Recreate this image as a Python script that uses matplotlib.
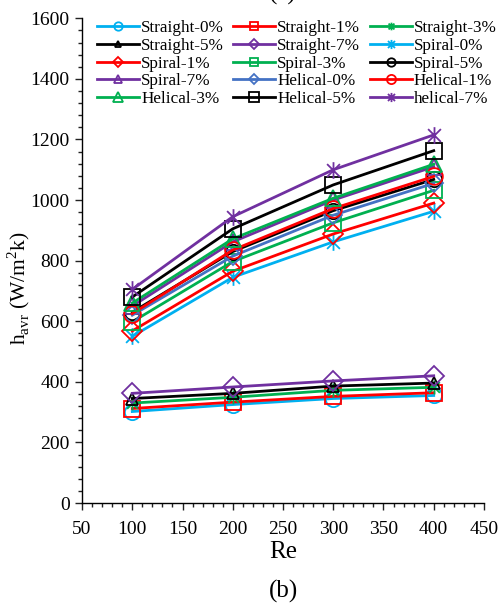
import matplotlib
matplotlib.use("Agg")
import matplotlib.pyplot as plt
from matplotlib.path import Path
from matplotlib.ticker import MultipleLocator

plt.rcParams['font.family'] = ['Liberation Serif', 'DejaVu Serif']
plt.rcParams['mathtext.fontset'] = 'custom'
plt.rcParams['mathtext.rm'] = 'Liberation Serif'

re_vals = [100, 200, 300, 400]

series_names = ["Straight-0%", "Straight-1%", "Straight-3%", "Straight-5%", "Straight-7%",
                "Spiral-0%", "Spiral-1%", "Spiral-3%", "Spiral-5%", "Spiral-7%",
                "Helical-0%", "Helical-1%", "Helical-3%", "Helical-5%", "helical-7%"]

straight_0 = [302, 325, 345, 355]
straight_1 = [312, 333, 352, 364]
straight_3 = [330, 349, 372, 382]
straight_5 = [345, 362, 386, 396]
straight_7 = [362, 383, 403, 420]
spiral_0 = [550, 745, 862, 963]
spiral_1 = [568, 765, 888, 990]
spiral_3 = [598, 797, 925, 1032]
spiral_5 = [630, 830, 965, 1068]
spiral_7 = [650, 862, 1000, 1110]
helical_0 = [620, 815, 950, 1055]
helical_1 = [625, 835, 972, 1078]
helical_3 = [660, 872, 1006, 1118]
helical_5 = [680, 905, 1050, 1163]
helical_7 = [705, 945, 1100, 1215]

all_values = [straight_0, straight_1, straight_3, straight_5, straight_7,
              spiral_0, spiral_1, spiral_3, spiral_5, spiral_7,
              helical_0, helical_1, helical_3, helical_5, helical_7]

cyan = '#00B0F0'
red = '#FF0000'
green = '#00B050'
black = '#000000'
purple = '#7030A0'
blue = '#4472C4'

star = Path([(-1, -1), (1, 1), (-1, 1), (1, -1), (0, -1.3), (0, 1.3)],
            [Path.MOVETO, Path.LINETO, Path.MOVETO, Path.LINETO, Path.MOVETO, Path.LINETO])

styles = [
    (cyan, 'o', 11), (red, 's', 11), (green, star, 10), (black, '^', 9), (purple, 'D', 10),
    (cyan, star, 12), (red, 'D', 10), (green, 's', 11), (black, 'o', 11), (purple, '^', 11),
    (blue, 'D', 9), (red, 'o', 12), (green, '^', 12), (black, 's', 12), (purple, star, 12),
]

fig = plt.figure(figsize=(5.01, 6.09), dpi=100)
ax = fig.add_axes([0.1637, 0.174, 0.8023, 0.796])

handles = []
for name, vals, (c, m, ms) in zip(series_names, all_values, styles):
    h, = ax.plot(re_vals, vals, color=c, lw=2, marker=m, ms=ms, mfc='none', mec=c, mew=1.3, label=name)
    handles.append(h)

ax.set_xlim(50, 450)
ax.set_ylim(0, 1600)
ax.xaxis.set_major_locator(MultipleLocator(50))
ax.xaxis.set_minor_locator(MultipleLocator(10))
ax.yaxis.set_major_locator(MultipleLocator(200))
ax.yaxis.set_minor_locator(MultipleLocator(40))
ax.tick_params(which='both', direction='out', labelsize=14, width=1, color='#222222')
ax.tick_params(which='major', length=5)
ax.tick_params(which='minor', length=3)
ax.tick_params(axis='x', which='major', pad=8)
ax.tick_params(axis='y', which='major', pad=4)
for s in ['top', 'right']:
    ax.spines[s].set_visible(False)
for s in ['left', 'bottom']:
    ax.spines[s].set_linewidth(1)

ax.set_xlabel('Re', fontsize=18, labelpad=2)
ax.set_ylabel(r'h$_{\mathregular{avr}}$ (W/m$^{\mathregular{2}}$k)', fontsize=15.5, labelpad=2)
ax.yaxis.set_label_coords(-0.125, 0.443)

fig.text(0.565, 0.0296, '(b)', ha='center', va='center', fontsize=18)
fig.text(0.565, 1.0, '(a)', ha='center', va='baseline', fontsize=18)

ncol = 3
order = [i for c in range(ncol) for i in range(c, len(handles), ncol)]
fig.legend([handles[i] for i in order], [series_names[i] for i in order],
           loc='upper left', bbox_to_anchor=(0.194, 0.967), ncol=ncol, frameon=False,
           fontsize=12.3, handlelength=2.45, handletextpad=0.12, columnspacing=0.55,
           labelspacing=0.1, borderaxespad=0, borderpad=0, markerscale=0.55)

fig.savefig('out.png', dpi=100)
